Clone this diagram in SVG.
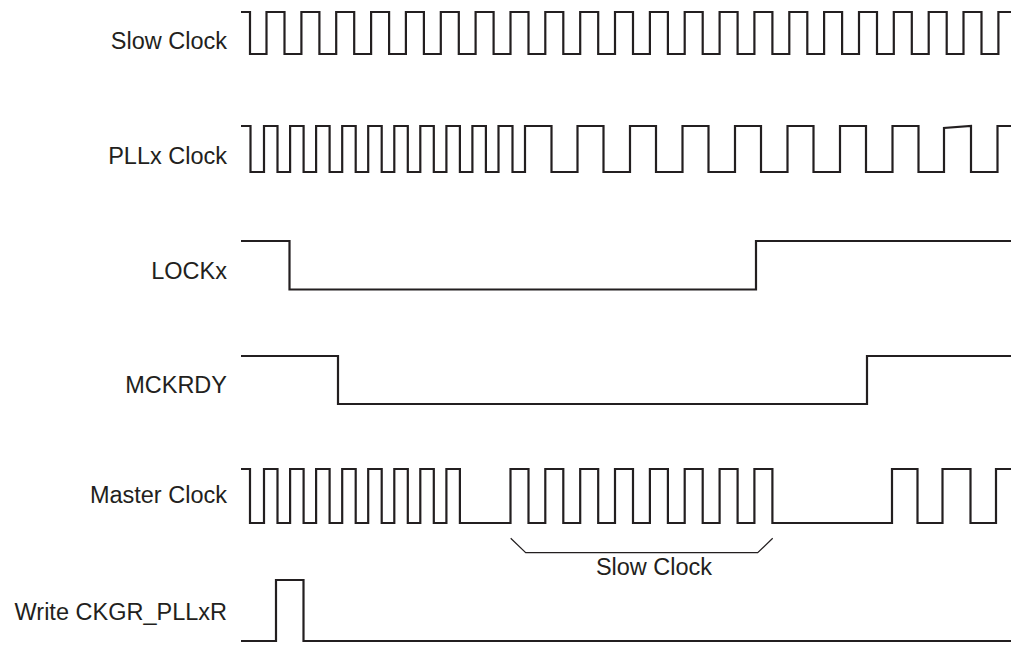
<svg xmlns="http://www.w3.org/2000/svg" width="1013" height="645" viewBox="0 0 1013 645">
<style>
.wave{fill:none;stroke:#231f20;stroke-width:2.2;stroke-linejoin:miter;stroke-linecap:butt}
.brace{fill:none;stroke:#231f20;stroke-width:1.2}
.lbl{font-family:"Liberation Sans",Arial,sans-serif;font-size:23.5px;fill:#231f20;text-anchor:end}
.mid{text-anchor:middle}
</style>
<rect width="1013" height="645" fill="#fff"/>
<g id="slow-clock">
<text class="lbl" x="227" y="49">Slow Clock</text>
<path class="wave" d="M241,12 H250 V54 H266.5 V12 H284.5 V54 H301.4 V12 H319.4 V54 H336.2 V12 H354.2 V54 H371.1 V12 H389.1 V54 H405.9 V12 H423.9 V54 H440.8 V12 H458.8 V54 H475.6 V12 H493.6 V54 H510.5 V12 H528.5 V54 H545.3 V12 H563.3 V54 H580.2 V12 H598.2 V54 H615 V12 H633 V54 H649.9 V12 H667.9 V54 H684.7 V12 H702.7 V54 H719.6 V12 H737.6 V54 H754.4 V12 H772.4 V54 H789.3 V12 H807.3 V54 H824.1 V12 H842.1 V54 H859 V12 H877 V54 H893.8 V12 H911.8 V54 H928.7 V12 H946.7 V54 H963.5 V12 H981.5 V54 H998.4 V12 H1011"/>
</g>
<g id="pllx-clock">
<text class="lbl" x="227" y="164">PLLx Clock</text>
<path class="wave" d="M241,126 H250.5 V172 H264 V126 H277.5 V172 H290.1 V126 H303.6 V172 H316.1 V126 H329.6 V172 H342.2 V126 H355.7 V172 H368.2 V126 H381.7 V172 H394.3 V126 H407.8 V172 H420.3 V126 H433.8 V172 H446.4 V126 H459.9 V172 H472.4 V126 H485.9 V172 H498.5 V126 H512.5 V172 H525 V126 H551.5 V172 H577.5 V126 H603.5 V172 H630 V126 H656 V172 H682.5 V126 H708.5 V172 H735 V126 H761 V172 H787.5 V126 H813.5 V172 H840 V126 H866 V172 H892.5 V126 H918.5 V172 H944 V128 L971,126 V172 H997.5 V126 H1011"/>
</g>
<g id="lockx">
<text class="lbl" x="227" y="279">LOCKx</text>
<path class="wave" d="M241,241 H289.5 V289.5 H756 V241 H1011"/>
</g>
<g id="mckrdy">
<text class="lbl" x="227" y="393">MCKRDY</text>
<path class="wave" d="M241,356 H338 V404 H867 V356 H1011"/>
</g>
<g id="master-clock">
<text class="lbl" x="227" y="503">Master Clock</text>
<path class="wave" d="M241,469 H250 V523 H264 V469 H277.5 V523 H290.1 V469 H303.6 V523 H316.1 V469 H329.6 V523 H342.2 V469 H355.7 V523 H368.2 V469 H381.7 V523 H394.3 V469 H407.8 V523 H420.3 V469 H433.8 V523 H446.4 V469 H459.9 V523 H510.5 V469 H528.5 V523 H545.3 V469 H563.3 V523 H580.2 V469 H598.2 V523 H615 V469 H633 V523 H649.9 V469 H667.9 V523 H684.7 V469 H702.7 V523 H719.6 V469 H737.6 V523 H754.4 V469 H772.4 V523 H892 V469 H917.5 V523 H942.5 V469 H970.5 V523 H996 V469 H1011"/>
</g>
<g id="slow-clock-span">
<path class="brace" d="M510.7,538.3 L525.7,552.7 H757.7 L772.7,538.3"/>
<text class="lbl mid" x="654" y="575">Slow Clock</text>
</g>
<g id="write-ckgr-pllxr">
<text class="lbl" x="227" y="620">Write CKGR_PLLxR</text>
<path class="wave" d="M241,641 H276 V580 H303.5 V641 H1011"/>
</g>
</svg>
